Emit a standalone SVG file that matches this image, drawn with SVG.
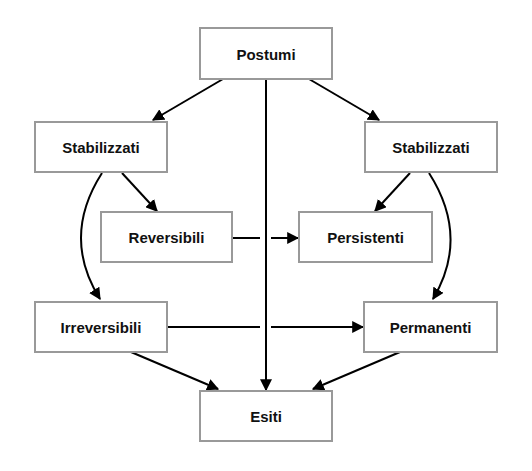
<svg xmlns="http://www.w3.org/2000/svg" width="532" height="471" viewBox="0 0 532 471">
<defs>
<marker id="ah" viewBox="0 0 10 10" refX="9" refY="5" markerWidth="6" markerHeight="6" orient="auto" markerUnits="strokeWidth">
<path d="M0,0 L10,5 L0,10 z" fill="#000"/>
</marker>
<style>
.box{fill:#fff;stroke:#999;stroke-width:2}
.lbl{font-family:"Liberation Sans",Arial,sans-serif;font-size:15px;font-weight:bold;fill:#111;text-anchor:middle;dominant-baseline:central}
.c{fill:none;stroke:#000;stroke-width:2}
</style>
</defs>
<rect width="532" height="471" fill="#fff"/>
<g id="connectors">
<path class="c" d="M223,79 L153,120" marker-end="url(#ah)"/>
<path class="c" d="M309,79 L379,120" marker-end="url(#ah)"/>
<path class="c" d="M266,79 L266,390" marker-end="url(#ah)"/>
<path class="c" d="M122,173 L157,211" marker-end="url(#ah)"/>
<path class="c" d="M410,173 L375,211" marker-end="url(#ah)"/>
<path class="c" d="M102,173 Q61,237 100,299" marker-end="url(#ah)"/>
<path class="c" d="M429,173 Q470,237 433,299" marker-end="url(#ah)"/>
<path class="c" d="M232,238 L260,238"/>
<path class="c" d="M271,238 L298,238" marker-end="url(#ah)"/>
<path class="c" d="M167,327 L260,327"/>
<path class="c" d="M271,327 L363,327" marker-end="url(#ah)"/>
<path class="c" d="M131,352 L218,389" marker-end="url(#ah)"/>
<path class="c" d="M400,352 L313,389" marker-end="url(#ah)"/>
</g>
<g id="postumi"><rect class="box" x="200" y="28" width="132" height="51"/><text class="lbl" x="266" y="54">Postumi</text></g>
<g id="stab-left"><rect class="box" x="35" y="122" width="132" height="50"/><text class="lbl" x="101" y="147">Stabilizzati</text></g>
<g id="stab-right"><rect class="box" x="365" y="122" width="132" height="50"/><text class="lbl" x="431" y="147">Stabilizzati</text></g>
<g id="reversibili"><rect class="box" x="101" y="212" width="131" height="50"/><text class="lbl" x="166.5" y="237">Reversibili</text></g>
<g id="persistenti"><rect class="box" x="299" y="212" width="133" height="50"/><text class="lbl" x="365.5" y="237">Persistenti</text></g>
<g id="irreversibili"><rect class="box" x="35" y="302" width="132" height="50"/><text class="lbl" x="101" y="327">Irreversibili</text></g>
<g id="permanenti"><rect class="box" x="364" y="302" width="133" height="50"/><text class="lbl" x="430.5" y="327">Permanenti</text></g>
<g id="esiti"><rect class="box" x="200" y="391" width="132" height="50"/><text class="lbl" x="266" y="416">Esiti</text></g>
</svg>
